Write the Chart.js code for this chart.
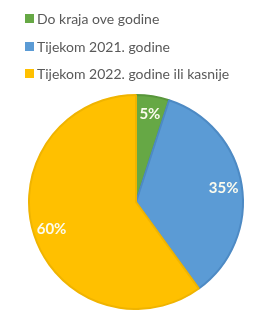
<!DOCTYPE html>
<html>
<head>
<meta charset="utf-8">
<script src="https://cdn.jsdelivr.net/npm/chart.js@4.4.1/dist/chart.umd.min.js"></script>
<style>
  html, body { margin: 0; padding: 0; background: #fff; }
  #wrap { position: relative; width: 266px; height: 310px; }
  #legend { position: absolute; left: 25px; top: 5px; font-family: Lato, "Noto Sans", sans-serif; font-size: 14px; color: #595959; }
  .lg-item { display: flex; align-items: center; height: 27.5px; white-space: nowrap; }
  .lg-box { width: 9px; height: 9px; margin-right: 3px; }
</style>
</head>
<body>
<div id="wrap">
  <div id="legend"></div>
  <canvas id="c" width="266" height="310"></canvas>
</div>
<script>
const labels = ["Do kraja ove godine", "Tijekom 2021. godine", "Tijekom 2022. godine ili kasnije"];
const values = [5, 35, 60];
const colors = ["#66a845", "#5b9bd5", "#ffc000"];
const borders = ["#58963b", "#4d8ac4", "#f0b400"];

// legend, one item per row
const legend = document.getElementById("legend");
legend.innerHTML = labels.map((l, i) =>
  `<div class="lg-item"><span class="lg-box" style="background:${colors[i]}"></span>${l}</div>`).join("");

// percentage labels inside the slices
const sliceLabels = {
  id: "sliceLabels",
  afterDatasetsDraw(chart) {
    const ctx = chart.ctx;
    const total = values.reduce((a, b) => a + b, 0);
    chart.getDatasetMeta(0).data.forEach((arc, i) => {
      const r = arc.outerRadius * 0.83;
      const mid = (arc.startAngle + arc.endAngle) / 2;
      const x = arc.x + Math.cos(mid) * r;
      const y = arc.y + Math.sin(mid) * r;
      ctx.save();
      ctx.fillStyle = "#fbfbee";
      ctx.font = "bold 15px Lato, 'Noto Sans', sans-serif";
      ctx.textAlign = "center";
      ctx.textBaseline = "middle";
      ctx.fillText(Math.round(values[i] / total * 100) + "%", x, y);
      ctx.restore();
    });
  }
};

new Chart(document.getElementById("c"), {
  type: "pie",
  data: {
    labels,
    datasets: [{ data: values, backgroundColor: colors, borderColor: borders, borderWidth: 2 }]
  },
  options: {
    responsive: false,
    animation: false,
    layout: { padding: { left: 28, right: 22, top: 94, bottom: 0 } },
    plugins: { legend: { display: false }, tooltip: { enabled: false } }
  },
  plugins: [sliceLabels]
});
</script>
</body>
</html>
